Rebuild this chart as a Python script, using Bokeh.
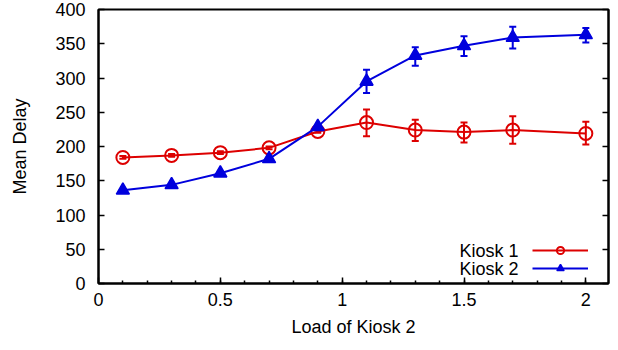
from bokeh.plotting import figure
from bokeh.models import (Range1d, LinearAxis, FixedTicker, Whisker, TeeHead,
                          ColumnDataSource, Legend, LegendItem, Label)
from bokeh.embed import file_html
from bokeh.resources import INLINE

# ---- data ----
load = [0.1, 0.3, 0.5, 0.7, 0.9, 1.1, 1.3, 1.5, 1.7, 2.0]
kiosk1 = [184, 187, 191, 198, 222, 235, 224, 221, 224, 219]
kiosk1_lo = [182, 185, 189, 196, 220, 215, 208, 206, 204, 203]
kiosk1_hi = [186, 189, 193, 200, 224, 254, 239, 235, 244, 236]
kiosk2 = [136, 144, 161, 182, 229, 295, 333, 347, 359, 363]
kiosk2_lo = [135, 143, 160, 181, 227, 278, 318, 332, 343, 352]
kiosk2_hi = [137, 145, 162, 183, 231, 312, 345, 361, 375, 373]
labels = ["Kiosk 1", "Kiosk 2"]
colors = ["#dd0000", "#0000dd"]
x_ticks = [0, 0.5, 1, 1.5, 2]
y_ticks = [0, 50, 100, 150, 200, 250, 300, 350, 400]

FONT = "Liberation Sans"
FS = "18px"

p = figure(width=618, height=350, output_backend="svg", toolbar_location=None,
           x_range=Range1d(0, 2.093), y_range=Range1d(0, 400),
           min_border_left=98, min_border_right=10, min_border_top=9,
           min_border_bottom=67)
p.background_fill_color = "white"
p.border_fill_color = "white"
p.grid.visible = False
p.outline_line_color = "black"
p.outline_line_width = 2

for ax in (p.xaxis[0], p.yaxis[0]):
    ax.axis_line_width = 2
    ax.major_tick_in = 6
    ax.major_tick_out = 0
    ax.major_tick_line_width = 1.5
    ax.major_label_text_font = FONT
    ax.major_label_text_font_size = FS
    ax.major_label_text_color = "black"
    ax.axis_label_text_font = FONT
    ax.axis_label_text_font_size = FS
    ax.axis_label_text_color = "black"
    ax.axis_label_text_font_style = "normal"

p.xaxis.ticker = FixedTicker(ticks=x_ticks, minor_ticks=[round(0.1 * i, 1) for i in range(1, 21)])
p.xaxis.minor_tick_in = 3
p.xaxis.minor_tick_out = 0
p.xaxis.minor_tick_line_width = 1.5
p.yaxis.ticker = FixedTicker(ticks=y_ticks, minor_ticks=[])
p.xaxis.major_label_standoff = 9
p.yaxis.major_label_standoff = 13
p.xaxis.axis_label = "Load of Kiosk 2"
p.yaxis.axis_label = "Mean Delay"
p.xaxis.axis_label_standoff = 8
p.yaxis.axis_label_standoff = 22
p.xaxis.major_label_overrides = {0: "0", 0.5: "0.5", 1: "1", 1.5: "1.5", 2: "2"}

ra = LinearAxis(ticker=FixedTicker(ticks=y_ticks, minor_ticks=[]))
ra.major_tick_in = 6
ra.major_tick_out = 0
ra.major_tick_line_width = 1.5
ra.axis_line_width = 2
ra.major_label_overrides = {t: "" for t in y_ticks}
ra.major_label_standoff = 0
p.add_layout(ra, "right")

series = [(kiosk1, kiosk1_lo, kiosk1_hi), (kiosk2, kiosk2_lo, kiosk2_hi)]
items = []
for i, (ys, lo, hi) in enumerate(series):
    c = colors[i]
    src = ColumnDataSource(dict(x=load, y=ys, lo=lo, hi=hi))
    w = Whisker(source=src, base="x", lower="lo", upper="hi", dimension="height",
                line_color=c, line_width=2,
                upper_head=TeeHead(size=7, line_color=c, line_width=2),
                lower_head=TeeHead(size=7, line_color=c, line_width=2))
    p.add_layout(w)
    ln = p.line("x", "y", source=src, line_color=c, line_width=2)
    if i == 0:
        sc = p.scatter("x", "y", source=src, marker="circle", size=13,
                       line_color=c, line_width=2, fill_color=None)
    else:
        sc = p.scatter("x", "y", source=src, marker="triangle", size=13,
                       line_color=c, line_width=1.5, fill_color=c)
    items.append(LegendItem(label="", renderers=[ln, sc]))

leg = Legend(items=items, location=(434, 6), orientation="vertical",
             padding=0, margin=0, spacing=0, glyph_height=18, label_height=18,
             glyph_width=56, label_standoff=0, label_width=0,
             border_line_alpha=0, background_fill_alpha=0)
p.add_layout(leg)

for i, lab in enumerate(labels):
    p.add_layout(Label(x=420, y=33 - 18 * i, x_units="screen", y_units="screen",
                       text=lab, text_align="right", text_baseline="middle",
                       text_font=FONT, text_font_size=FS, text_color="black"))

open("out.html", "w").write(file_html(p, INLINE))
